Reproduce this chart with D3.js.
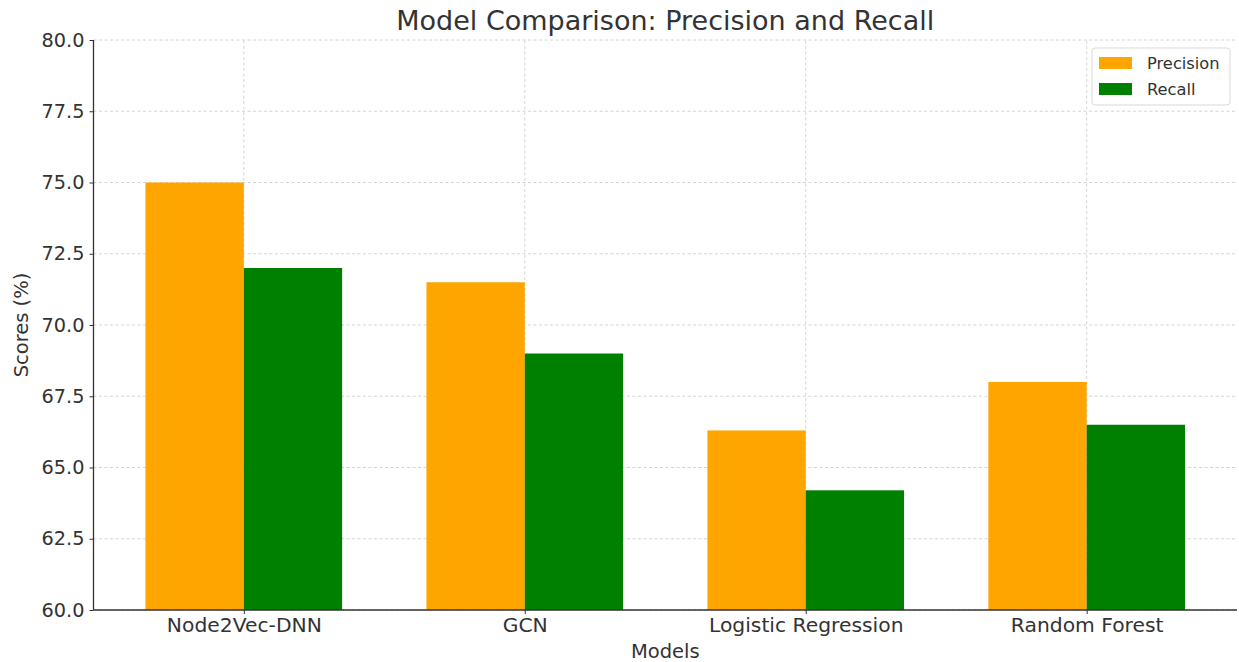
<!DOCTYPE html>
<html>
<head>
<meta charset="utf-8">
<script src="https://cdn.jsdelivr.net/npm/d3@7"></script>
<style>
  html, body { margin: 0; padding: 0; background: #fff; }
  svg { display: block; font-family: "DejaVu Sans", sans-serif; }
</style>
</head>
<body>
<svg id="chart" width="1239" height="662"></svg>
<script>
// Model names along the x axis
const models = ["Node2Vec-DNN", "GCN", "Logistic Regression", "Random Forest"];
// Scores in percent
const precision = [75.0, 71.5, 66.3, 68.0];
const recall = [72.0, 69.0, 64.2, 66.5];
const seriesNames = ["Precision", "Recall"];
const seriesColors = ["orange", "green"];
const yTicks = [60.0, 62.5, 65.0, 67.5, 70.0, 72.5, 75.0, 77.5, 80.0];

const svg = d3.select("#chart");
const W = 1239, H = 662;
const margin = { left: 93.5, right: 2, top: 40, bottom: 52 };
const textColor = "#333";

const barWidth = 0.35;
const x = d3.scaleLinear()
  .domain([-0.535, models.length - 1 + 0.535])
  .range([margin.left, W - margin.right]);
const y = d3.scaleLinear().domain([60, 80]).range([H - margin.bottom, margin.top]);

const g = svg.append("g");

// grid lines
g.append("g").selectAll("line.h").data(yTicks).join("line")
  .attr("x1", x.range()[0]).attr("x2", x.range()[1])
  .attr("y1", d => y(d)).attr("y2", d => y(d))
  .attr("stroke", "#cfcfcf").attr("stroke-width", 0.9).attr("stroke-dasharray", "3,2.5");
g.append("g").selectAll("line.v").data(models.map((m, i) => i)).join("line")
  .attr("x1", d => x(d)).attr("x2", d => x(d))
  .attr("y1", y(60)).attr("y2", y(80))
  .attr("stroke", "#cfcfcf").attr("stroke-width", 0.9).attr("stroke-dasharray", "3,2.5");

// bars
const series = [precision, recall];
series.forEach((vals, s) => {
  const offset = s === 0 ? -barWidth : 0;
  g.append("g").selectAll("rect").data(vals).join("rect")
    .attr("x", (d, i) => x(i + offset))
    .attr("width", (d, i) => x(i + offset + barWidth) - x(i + offset))
    .attr("y", d => y(d))
    .attr("height", d => y(60) - y(d))
    .attr("fill", seriesColors[s]);
});

// y axis
const yAxis = d3.axisLeft(y).tickValues(yTicks).tickFormat(d3.format(".1f")).tickSize(4).tickPadding(5);
const ya = g.append("g").attr("transform", `translate(${margin.left},0)`).call(yAxis);
ya.select(".domain").attr("stroke", "#333").attr("stroke-width", 1.3).attr("d", `M-0,${y(60)}V${y(80)}`);
ya.selectAll(".tick line").attr("stroke", "#333");
ya.selectAll(".tick text").attr("fill", textColor).attr("font-size", 19.3)
  .attr("font-family", "DejaVu Sans, sans-serif");

// x axis
const xAxis = d3.axisBottom(x).tickValues(models.map((m, i) => i)).tickFormat(i => models[i]).tickSize(4).tickPadding(4);
const xa = g.append("g").attr("transform", `translate(0,${y(60)})`).call(xAxis);
xa.select(".domain").attr("stroke", "#333").attr("stroke-width", 1.3).attr("d", `M${x.range()[0]},0H${x.range()[1]}`);
xa.selectAll(".tick line").attr("stroke", "#333");
xa.selectAll(".tick text").attr("fill", textColor).attr("font-size", 20.3)
  .attr("font-family", "DejaVu Sans, sans-serif");

// title and axis labels
svg.append("text").attr("x", (x.range()[0] + x.range()[1]) / 2).attr("y", 30)
  .attr("text-anchor", "middle").attr("font-size", 27).attr("fill", textColor)
  .text("Model Comparison: Precision and Recall");
svg.append("text").attr("x", (x.range()[0] + x.range()[1]) / 2).attr("y", 658)
  .attr("text-anchor", "middle").attr("font-size", 19.5).attr("fill", textColor)
  .text("Models");
svg.append("text").attr("transform", `translate(28,${(y(60) + y(80)) / 2}) rotate(-90)`)
  .attr("text-anchor", "middle").attr("font-size", 19.5).attr("fill", textColor)
  .text("Scores (%)");

// legend
const lg = svg.append("g").attr("transform", "translate(1092,48)");
lg.append("rect").attr("width", 138).attr("height", 57).attr("rx", 3)
  .attr("fill", "#fff").attr("fill-opacity", 0.85).attr("stroke", "#d9d9d9");
seriesNames.forEach((name, i) => {
  lg.append("rect").attr("x", 7).attr("y", 9 + i * 26).attr("width", 33).attr("height", 12)
    .attr("fill", seriesColors[i]);
  lg.append("text").attr("x", 55).attr("y", 21 + i * 26).attr("font-size", 16.3)
    .attr("fill", textColor).text(name);
});
</script>
</body>
</html>
